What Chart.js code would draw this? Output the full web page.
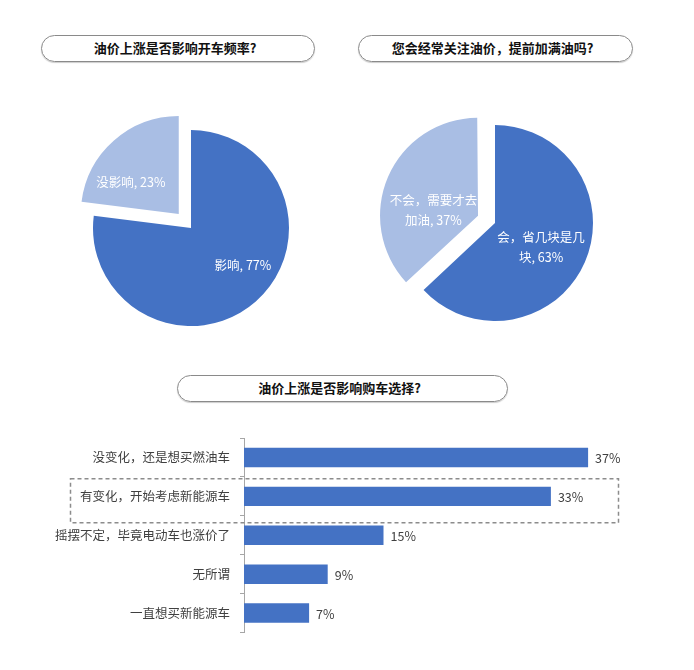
<!DOCTYPE html>
<html>
<head>
<meta charset="utf-8">
<title>油价调查</title>
<script src="https://cdn.jsdelivr.net/npm/chart.js@4.4.0/dist/chart.umd.min.js"></script>
<style>
    body {
        margin: 0;
        background: #fff;
        font-family: "Noto Sans CJK SC", "Noto Sans", sans-serif;
    }
    #page {
        position: relative;
        width: 694px;
        height: 670px;
        overflow: hidden;
    }
    .pill {
        position: absolute;
        box-sizing: border-box;
        height: 27px;
        padding-right: 6px;
        border: 1.5px solid #8a8a8a;
        border-radius: 14px;
        box-shadow: 0 1px 1px rgba(0, 0, 0, 0.2);
        font-size: 13px;
        font-weight: bold;
        line-height: 24px;
        text-align: center;
        color: #111;
    }
    canvas {
        position: absolute;
    }
</style>
</head>
<body>
<div id="page">
    <div class="pill" style="left:41px; top:35px; width:274px;">油价上涨是否影响开车频率?</div>
    <div class="pill" style="left:358px; top:35px; width:275px;">您会经常关注油价，提前加满油吗?</div>
    <div class="pill" style="left:177px; top:375px; width:331px;">油价上涨是否影响购车选择?</div>

    <canvas id="pieDrive" width="260" height="260" style="left:61px; top:98px;"></canvas>
    <canvas id="pieFill" width="260" height="260" style="left:365px; top:93px;"></canvas>
    <canvas id="barChoice" width="694" height="230" style="left:0; top:420px;"></canvas>
</div>

<script>
// Survey data
var driveLabels = ['影响', '没影响'];
var driveValues = [77, 23];

var fillLabels = ['会，省几块是几块', '不会，需要才去加油'];
var fillValues = [63, 37];

var choiceLabels = ['没变化，还是想买燃油车', '有变化，开始考虑新能源车', '摇摆不定，毕竟电动车也涨价了', '无所谓', '一直想买新能源车'];
var choiceValues = [37, 33, 15, 9, 7];
var choiceTicks = [0, 40];

var DARK_BLUE = '#4472C4';
var LIGHT_BLUE = '#A9BEE4';
var TEXT_GREY = '#404040';
var FONT = '"Noto Sans CJK SC", "Noto Sans", sans-serif';

Chart.defaults.font.family = FONT;

// Pie slices pulled out by "offset" also grow a bit in v4, undo that
var keepRadius = {
    id: 'keepRadius',
    afterDatasetUpdate: function(chart, args) {
        args.meta.data.forEach(function(arc) {
            var shift = (arc.options.offset || 0) / 4;
            var fix = 1 - Math.sin(Math.min(Math.PI, arc.circumference));
            arc.outerRadius -= shift * fix;
        });
    }
};

// White labels inside the slices, wrapped like in Excel
var sliceLabels = {
    id: 'sliceLabels',
    afterDatasetsDraw: function(chart, args, opts) {
        var ctx = chart.ctx;
        var meta = chart.getDatasetMeta(0);
        var values = chart.data.datasets[0].data;
        ctx.save();
        ctx.font = '12.5px ' + FONT;
        ctx.fillStyle = '#ffffff';
        ctx.textAlign = 'center';
        ctx.textBaseline = 'middle';
        meta.data.forEach(function(arc, i) {
            var mid = (arc.startAngle + arc.endAngle) / 2;
            var shift = (arc.options.offset || 0) / 4;
            var cx = arc.x + Math.cos(mid) * shift;
            var cy = arc.y + Math.sin(mid) * shift;
            var r = arc.outerRadius;
            var pos = opts.positions[i];
            var lines = wrapText(ctx, chart.data.labels[i] + ', ' + values[i] + '%', opts.maxWidth);
            var lineHeight = 20;
            var y0 = cy + pos[1] * r - (lines.length - 1) * lineHeight / 2;
            lines.forEach(function(line, k) {
                ctx.fillText(line, cx + pos[0] * r, y0 + k * lineHeight);
            });
        });
        ctx.restore();
    }
};

function wrapText(ctx, text, maxWidth) {
    var lines = [];
    var current = '';
    for (var i = 0; i < text.length; i++) {
        var test = current + text[i];
        if (ctx.measureText(test).width > maxWidth && current) {
            lines.push(current);
            current = text[i];
        } else {
            current = test;
        }
    }
    if (current) {
        lines.push(current);
    }
    return lines;
}

function makePie(canvasId, labels, values, positions) {
    return new Chart(document.getElementById(canvasId), {
        type: 'pie',
        data: {
            labels: labels,
            datasets: [{
                data: values,
                backgroundColor: [DARK_BLUE, LIGHT_BLUE],
                borderWidth: 0,
                offset: [0, 74],
                radius: 98
            }]
        },
        options: {
            responsive: false,
            animation: false,
            radius: 98,
            layout: { padding: 0 },
            plugins: {
                legend: { display: false },
                tooltip: { enabled: false },
                sliceLabels: { positions: positions, maxWidth: 92 }
            }
        },
        plugins: [keepRadius, sliceLabels]
    });
}

makePie('pieDrive', driveLabels, driveValues, [[0.53, 0.38], [-0.49, -0.33]]);
makePie('pieFill', fillLabels, fillValues, [[0.47, 0.25], [-0.48, -0.06]]);

// Value labels at the end of each bar plus the dashed highlight box
var barExtras = {
    id: 'barExtras',
    afterDatasetsDraw: function(chart) {
        var ctx = chart.ctx;
        var meta = chart.getDatasetMeta(0);
        var values = chart.data.datasets[0].data;
        ctx.save();
        ctx.font = '12.5px ' + FONT;
        ctx.fillStyle = TEXT_GREY;
        ctx.textAlign = 'left';
        ctx.textBaseline = 'middle';
        meta.data.forEach(function(bar, i) {
            ctx.fillText(values[i] + '%', bar.x + 7, bar.y + 1);
        });

        // highlight around the second answer
        var yMid = chart.scales.y.getPixelForValue(1);
        ctx.strokeStyle = '#8c8c8c';
        ctx.lineWidth = 1.5;
        ctx.setLineDash([4, 3]);
        ctx.strokeRect(70.5, yMid - 17.5, 548, 44);
        ctx.restore();
    }
};

new Chart(document.getElementById('barChoice'), {
    type: 'bar',
    data: {
        labels: choiceLabels,
        datasets: [{
            data: choiceValues,
            backgroundColor: DARK_BLUE,
            borderWidth: 0,
            categoryPercentage: 1,
            barPercentage: 0.5
        }]
    },
    options: {
        indexAxis: 'y',
        responsive: false,
        animation: false,
        layout: {
            padding: { top: 18, bottom: 17, left: 0, right: 78 }
        },
        scales: {
            x: {
                display: false,
                min: choiceTicks[0],
                max: choiceTicks[1]
            },
            y: {
                grid: {
                    drawOnChartArea: false,
                    tickLength: 4,
                    color: '#a6a6a6'
                },
                border: { color: '#a6a6a6', width: 1 },
                ticks: {
                    padding: 10,
                    color: TEXT_GREY,
                    font: { size: 12.5, family: FONT }
                },
                afterFit: function(scale) {
                    scale.width = 244;
                }
            }
        },
        plugins: {
            legend: { display: false },
            tooltip: { enabled: false }
        }
    },
    plugins: [barExtras]
});
</script>
</body>
</html>
